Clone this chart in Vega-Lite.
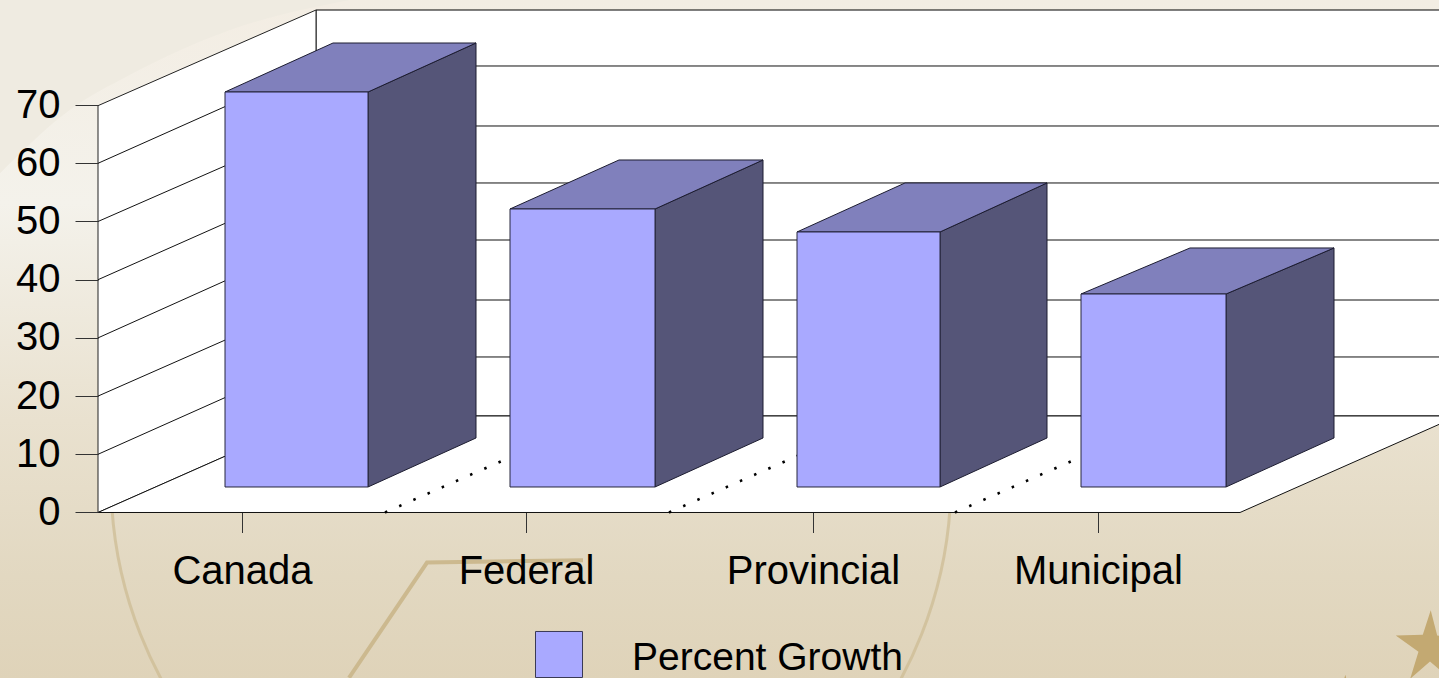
{
"$schema":"https://vega.github.io/schema/vega-lite/v6.json",
"width":1439,"height":678,"autosize":{"type":"none"},"padding":0,
"background":"#e6dcc6",
"config":{"view":{"stroke":null},"font":"Liberation Sans"},
"datasets":{
"bars":[
{"category":"Canada","series":"Percent Growth","x0":225,"x1":368,"base":4.38,"top":72.25},
{"category":"Federal","series":"Percent Growth","x0":510,"x1":655,"base":4.38,"top":52.15},
{"category":"Provincial","series":"Percent Growth","x0":797,"x1":940,"base":4.38,"top":48.2},
{"category":"Municipal","series":"Percent Growth","x0":1081,"x1":1226,"base":4.38,"top":37.54}],
"side":[
{"category":"Canada","x":368,"lo":4.38,"hi":72.25},{"category":"Canada","x":476,"lo":12.8,"hi":80.67},
{"category":"Federal","x":655,"lo":4.38,"hi":52.15},{"category":"Federal","x":763,"lo":12.8,"hi":60.57},
{"category":"Provincial","x":940,"lo":4.38,"hi":48.2},{"category":"Provincial","x":1047,"lo":12.8,"hi":56.62},
{"category":"Municipal","x":1226,"lo":4.38,"hi":37.54},{"category":"Municipal","x":1334,"lo":12.8,"hi":45.45}],
"topface":[
{"category":"Canada","y":72.25,"x0":225,"x1":368},{"category":"Canada","y":80.67,"x0":333,"x1":476},
{"category":"Federal","y":52.15,"x0":510,"x1":655},{"category":"Federal","y":60.57,"x0":619,"x1":763},
{"category":"Provincial","y":48.2,"x0":797,"x1":940},{"category":"Provincial","y":56.62,"x0":905,"x1":1047},
{"category":"Municipal","y":37.54,"x0":1081,"x1":1226},{"category":"Municipal","y":45.45,"x0":1190,"x1":1334}],
"leftwall":[{"x":98,"lo":0,"hi":69.9},{"x":316,"lo":16.58,"hi":86.34}],
"floor":[{"y":0,"x0":98,"x1":1240},{"y":16.58,"x0":316,"x1":1458}],
"backwall":[{"x0":316,"x1":1445,"lo":16.58,"hi":86.34}],
"grid":[
{"xa":98,"ya":10,"xb":316,"yb":26.72},{"xa":98,"ya":20,"xb":316,"yb":36.51},{"xa":98,"ya":30,"xb":316,"yb":46.82},
{"xa":98,"ya":40,"xb":316,"yb":56.62},{"xa":98,"ya":50,"xb":316,"yb":66.41},{"xa":98,"ya":60,"xb":316,"yb":76.72},
{"xa":316,"ya":26.72,"xb":1445,"yb":26.72},{"xa":316,"ya":36.51,"xb":1445,"yb":36.51},{"xa":316,"ya":46.82,"xb":1445,"yb":46.82},
{"xa":316,"ya":56.62,"xb":1445,"yb":56.62},{"xa":316,"ya":66.41,"xb":1445,"yb":66.41},{"xa":316,"ya":76.72,"xb":1445,"yb":76.72}],
"dots":[{"xa":385,"ya":0,"xb":604,"yb":16.58},{"xa":669,"ya":0,"xb":888,"yb":16.58},{"xa":955,"ya":0,"xb":1174,"yb":16.58}],
"sweep":[{"x":0,"top":88.06,"low":58.3},{"x":70,"top":88.06,"low":69.2},{"x":130,"top":88.06,"low":75.2},{"x":230,"top":88.06,"low":82.9},{"x":350,"top":88.06,"low":88.06}],
"ring":[{"x":531,"y":5.6}],
"seven":[{"x":349,"y":-28.4},{"x":427,"y":-8.6},{"x":583,"y":-8.2}],
"stars":[{"x":1430,"y":-23,"s":5200},{"x":1345,"y":-31,"s":1300}],
"bg":[{"x0":0,"x1":1439,"lo":-28.44,"hi":88.06}]
},
"layer":[
{"data":{"name":"bg"},"mark":{"type":"rect","fill":{"gradient":"linear","x1":0,"y1":0,"x2":0,"y2":1,"stops":[{"offset":0,"color":"#f3ede3"},{"offset":0.3,"color":"#f4f2eb"},{"offset":0.62,"color":"#e9e1cf"},{"offset":0.85,"color":"#e2d8c1"},{"offset":1,"color":"#dfd3b9"}]}},
"encoding":{
"x":{"field":"x0","type":"quantitative","scale":{"domain":[0,1439],"nice":false,"zero":false},"axis":{"zindex":1,"title":null,"grid":false,"domain":false,"orient":"bottom","offset":-165.5,"values":[242,526,813,1098],"labelExpr":"datum.value==242?'Canada':datum.value==526?'Federal':datum.value==813?'Provincial':'Municipal'","tickSize":20,"tickColor":"#333333","labelFontSize":40,"labelColor":"#000000","labelPadding":19,"labelOverlap":false,"labelFlush":false}},
"x2":{"field":"x1"},
"y":{"field":"lo","type":"quantitative","scale":{"domain":[-28.44,88.06],"nice":false,"zero":false},"axis":{"zindex":1,"title":null,"grid":false,"domain":false,"orient":"left","offset":-98,"values":[0,10,20,30,40,50,60,70],"tickSize":23,"tickColor":"#333333","labelFontSize":40,"labelColor":"#000000","labelPadding":15,"labelOverlap":false,"labelFlush":false}},
"y2":{"field":"hi"}}},
{"data":{"name":"sweep"},"mark":{"type":"area","color":"#efebe1","interpolate":"monotone"},"encoding":{"x":{"field":"x","type":"quantitative"},"y":{"field":"top","type":"quantitative"},"y2":{"field":"low"}}},
{"data":{"name":"ring"},"mark":{"type":"point","shape":"circle","filled":false,"stroke":"#cdbb92","strokeWidth":3,"opacity":0.7,"size":705600},"encoding":{"x":{"field":"x","type":"quantitative"},"y":{"field":"y","type":"quantitative"}}},
{"data":{"name":"seven"},"mark":{"type":"line","stroke":"#ccb98f","strokeWidth":4},"encoding":{"x":{"field":"x","type":"quantitative"},"y":{"field":"y","type":"quantitative"}}},
{"data":{"name":"stars"},"mark":{"type":"point","filled":true,"fill":"#c3a972","opacity":1,"clip":true,"shape":"M0.02,-1L0.2,-0.3L0.95,-0.25L0.32,0.15L0.55,0.9L0,0.42L-0.55,0.9L-0.32,0.15L-0.95,-0.3L-0.2,-0.32Z"},"encoding":{"x":{"field":"x","type":"quantitative"},"y":{"field":"y","type":"quantitative"},"size":{"field":"s","type":"quantitative","scale":null,"legend":null}}},
{"data":{"name":"backwall"},"mark":{"type":"rect","fill":"#ffffff","stroke":"#000000","strokeWidth":1,"clip":true},"encoding":{"x":{"field":"x0","type":"quantitative"},"x2":{"field":"x1"},"y":{"field":"lo","type":"quantitative"},"y2":{"field":"hi"}}},
{"data":{"name":"leftwall"},"mark":{"type":"area","fill":"#ffffff","stroke":"#222222","strokeWidth":1},"encoding":{"x":{"field":"x","type":"quantitative"},"y":{"field":"lo","type":"quantitative"},"y2":{"field":"hi"}}},
{"data":{"name":"floor"},"mark":{"type":"area","orient":"horizontal","fill":"#ffffff","stroke":"#111111","strokeWidth":1,"clip":true},"encoding":{"y":{"field":"y","type":"quantitative"},"x":{"field":"x0","type":"quantitative"},"x2":{"field":"x1"}}},
{"data":{"name":"grid"},"mark":{"type":"rule","stroke":"#111111","strokeWidth":1,"clip":true},"encoding":{"x":{"field":"xa","type":"quantitative"},"x2":{"field":"xb"},"y":{"field":"ya","type":"quantitative"},"y2":{"field":"yb"}}},
{"data":{"name":"dots"},"mark":{"type":"rule","stroke":"#000000","strokeWidth":2.5,"strokeDash":[2.5,13]},"encoding":{"x":{"field":"xa","type":"quantitative"},"x2":{"field":"xb"},"y":{"field":"ya","type":"quantitative"},"y2":{"field":"yb"}}},
{"data":{"name":"side"},"mark":{"type":"area","fill":"#555578","stroke":"#1c1c30","strokeWidth":1},"encoding":{"x":{"field":"x","type":"quantitative"},"y":{"field":"lo","type":"quantitative"},"y2":{"field":"hi"},"detail":{"field":"category"}}},
{"data":{"name":"topface"},"mark":{"type":"area","orient":"horizontal","fill":"#8080bc","stroke":"#1c1c30","strokeWidth":1},"encoding":{"y":{"field":"y","type":"quantitative"},"x":{"field":"x0","type":"quantitative"},"x2":{"field":"x1"},"detail":{"field":"category"}}},
{"data":{"name":"bars"},"mark":{"type":"rect","stroke":"#26263c","strokeWidth":1,"opacity":1},"encoding":{"x":{"field":"x0","type":"quantitative"},"x2":{"field":"x1"},"y":{"field":"base","type":"quantitative"},"y2":{"field":"top"},
"color":{"field":"series","type":"nominal","scale":{"domain":["Percent Growth"],"range":["#a9a9ff"]},"legend":{"title":null,"orient":"none","legendX":535,"legendY":634,"symbolType":"M-1,-1.128L1,-1.128L1,0.83L-1,0.83Z","symbolSize":2209,"symbolStrokeColor":"#3a3a55","symbolStrokeWidth":1,"symbolOpacity":1,"labelFontSize":39,"labelColor":"#000000","labelOffset":49,"labelLimit":400,"padding":0,"symbolOffset":0}}}}
]
}
